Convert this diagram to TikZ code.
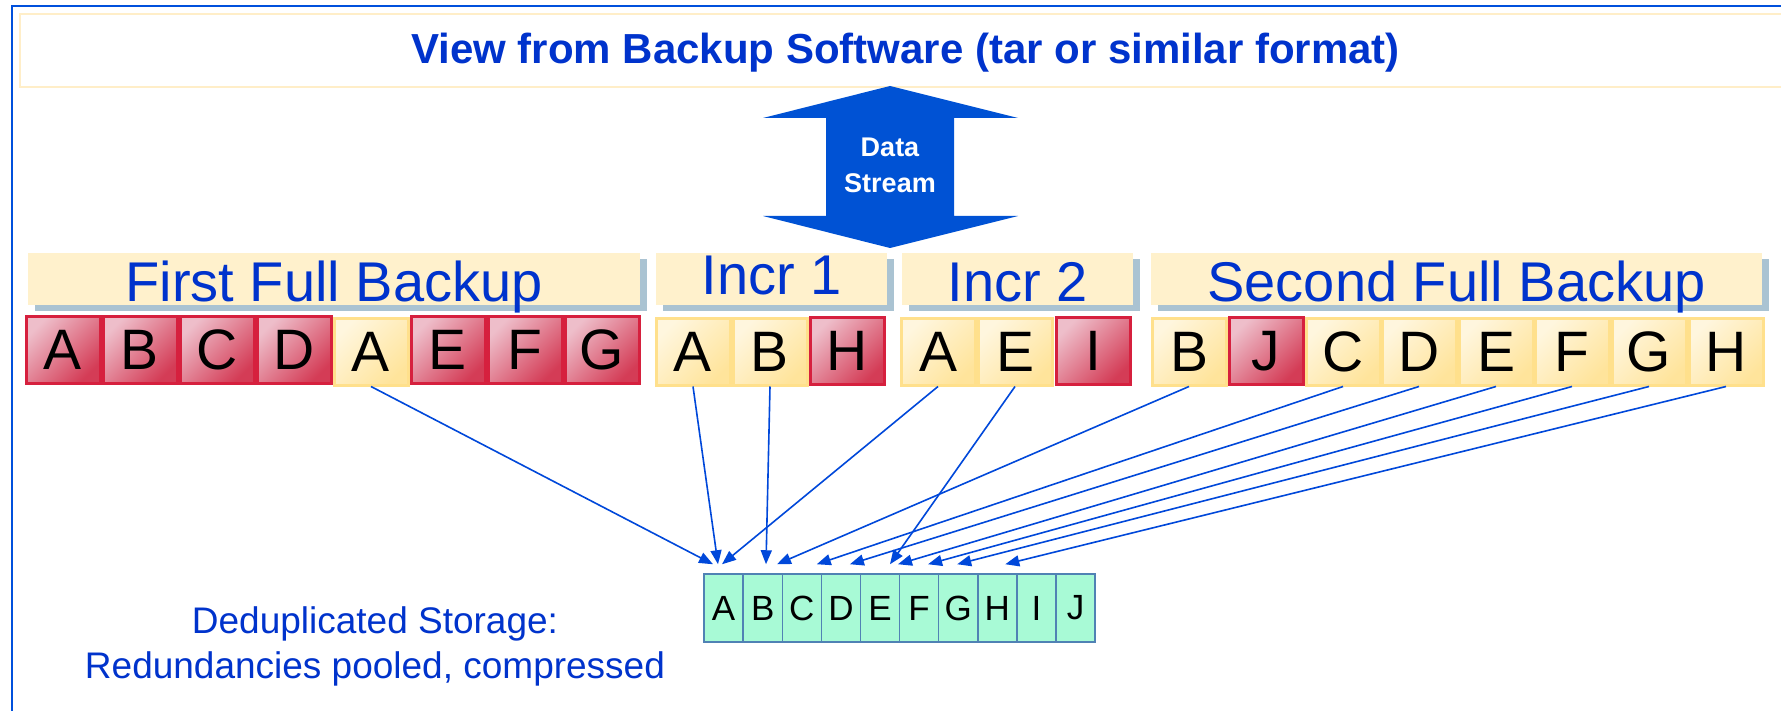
\documentclass[tikz,border=0pt]{standalone}
\usepackage{fontspec}
\setmainfont{Liberation Sans}
\usetikzlibrary{arrows.meta,shadows,calc}
\definecolor{frameblue}{RGB}{0,80,220}
\definecolor{titleblue}{RGB}{0,51,204}
\definecolor{streamblue}{RGB}{0,82,212}
\definecolor{connblue}{RGB}{0,72,218}
\definecolor{creamline}{RGB}{255,238,200}
\definecolor{grpfill}{RGB}{255,241,204}
\definecolor{shadowc}{RGB}{170,195,210}
\definecolor{redborder}{RGB}{214,32,62}
\definecolor{redlight}{RGB}{238,190,202}
\definecolor{reddark}{RGB}{212,60,86}
\definecolor{yelborder}{RGB}{255,224,140}
\definecolor{yellight}{RGB}{255,246,222}
\definecolor{yeldark}{RGB}{255,228,155}
\definecolor{mint}{RGB}{168,250,214}
\definecolor{mintborder}{RGB}{80,130,180}
\begin{document}
\begin{tikzpicture}[x=1pt,y=-1pt,
  blk/.style={line width=3pt, minimum width=74pt, minimum height=66pt, inner sep=0pt,
    font=\fontsize{57}{57}\selectfont},
  redblk/.style={blk, draw=redborder, top color=redlight, bottom color=reddark, shading angle=45},
  yelblk/.style={blk, draw=yelborder, top color=yellight, bottom color=yeldark, shading angle=45},
  grpbox/.style={fill=grpfill, minimum height=52pt, inner sep=0pt,
    drop shadow={shadow xshift=7pt,shadow yshift=-6pt,fill=shadowc,opacity=1}},
  grptext/.style={anchor=base, text=titleblue, inner sep=0pt, font=\fontsize{56}{56}\selectfont},
  ddbox/.style={draw=mintborder, line width=1.5pt, fill=mint, minimum width=39.1pt,
    minimum height=68pt, inner sep=0pt, font=\fontsize{35}{35}\selectfont},
  conn/.style={draw=connblue, line width=1.6pt, -{Triangle[length=14pt,width=11pt]}}
]
\useasboundingbox (0,0) rectangle (1781,711);
\fill[white] (0,0) rectangle (1781,711);
% frame
\draw[frameblue, line width=2pt] (12,711) -- (12,6) -- (1781,6);
% title
\node[draw=creamline, line width=2pt, fill=white, anchor=north west, minimum width=1800pt,
  minimum height=73pt, inner sep=0pt] (tbox) at (19,13) {};
\node[anchor=base, text=titleblue, inner sep=0pt, font=\bfseries\fontsize{42}{42}\selectfont]
  (title) at (905.5,64) {View from Backup Software (tar or similar format)};
% data stream arrow
\fill[streamblue] (890,86) -- (1018,118) -- (954,118) -- (954,216) -- (1018,216) -- (890,248)
  -- (763,216) -- (826,216) -- (826,118) -- (763,118) -- cycle;
\node[text=white, align=center, inner sep=0pt, font=\bfseries\fontsize{27}{36}\selectfont]
  (stream) at (890,165) {Data\\Stream};
% group boxes
\node[grpbox, minimum width=612pt] (gFirst) at (334,279) {};
\node[grpbox, minimum width=231pt] (gI1) at (771.5,279) {};
\node[grpbox, minimum width=231pt] (gI2) at (1017.5,279) {};
\node[grpbox, minimum width=611pt] (gSecond) at (1456.5,279) {};
\node[grptext] (tFirst) at (334,302) {First Full Backup};
\node[grptext] (tI1) at (771.5,295) {Incr 1};
\node[grptext] (tI2) at (1017.5,302) {Incr 2};
\node[grptext] (tSecond) at (1456.5,302) {Second Full Backup};
% first full backup blocks
\node[redblk] (f1) at (63,350) {A};
\node[redblk] (f2) at (140,350) {B};
\node[redblk] (f3) at (217,350) {C};
\node[redblk] (f4) at (294,350) {D};
\node[redblk] (f6) at (448,350) {E};
\node[redblk] (f7) at (525,350) {F};
\node[redblk] (f8) at (602,350) {G};
\node[yelblk] (f5) at (371,352) {A};
% incr 1
\node[yelblk] (i1a) at (693,352) {A};
\node[yelblk] (i1b) at (770,352) {B};
\node[redblk] (i1h) at (847,351) {H};
% incr 2
\node[yelblk] (i2a) at (938,352) {A};
\node[yelblk] (i2e) at (1015,352) {E};
\node[redblk] (i2i) at (1093,351) {I};
% second full backup
\node[yelblk] (sB) at (1189,352) {B};
\node[yelblk] (sC) at (1343,352) {C};
\node[yelblk] (sD) at (1419,352) {D};
\node[yelblk] (sE) at (1496,352) {E};
\node[yelblk] (sF) at (1572,352) {F};
\node[yelblk] (sG) at (1649,352) {G};
\node[yelblk] (sH) at (1726,352) {H};
\node[redblk] (sJ) at (1266,351) {J};
% deduplicated storage
\node[ddbox] (dA) at (723.6,608) {A};
\node[ddbox] (dB) at (762.7,608) {B};
\node[ddbox] (dC) at (801.8,608) {C};
\node[ddbox] (dD) at (840.9,608) {D};
\node[ddbox] (dE) at (880.0,608) {E};
\node[ddbox] (dF) at (919.1,608) {F};
\node[ddbox] (dG) at (958.2,608) {G};
\node[ddbox] (dH) at (997.3,608) {H};
\node[ddbox] (dI) at (1036.4,608) {I};
\node[ddbox] (dJ) at (1075.5,608) {J};
\node[anchor=base, align=center, text=titleblue, inner sep=0pt, font=\fontsize{37}{45}\selectfont]
  (ddtext) at (375,678) {Deduplicated Storage:\\Redundancies pooled, compressed};
% connectors
\draw[conn] (f5.south) -- ([xshift=-10.6pt,yshift=9pt]dA.north);
\draw[conn] (i1a.south) -- ([xshift=-5.6pt,yshift=9pt]dA.north);
\draw[conn] (i2a.south) -- ([xshift=-1.6pt,yshift=9pt]dA.north);
\draw[conn] (i1b.south) -- ([xshift=3.3pt,yshift=9pt]dB.north);
\draw[conn] (sB.south) -- ([xshift=14.3pt,yshift=9pt]dB.north);
\draw[conn] (sC.south) -- ([xshift=15pt,yshift=9pt]dC.north);
\draw[conn] (sD.south) -- ([xshift=9pt,yshift=9pt]dD.north);
\draw[conn] (i2e.south) -- ([xshift=10pt,yshift=9pt]dE.north);
\draw[conn] (sE.south) -- ([xshift=18pt,yshift=9pt]dE.north);
\draw[conn] (sF.south) -- ([xshift=9pt,yshift=9pt]dF.north);
\draw[conn] (sG.south) -- ([xshift=-1pt,yshift=9pt]dG.north);
\draw[conn] (sH.south) -- ([xshift=8pt,yshift=9pt]dH.north);
\end{tikzpicture}
\end{document}
